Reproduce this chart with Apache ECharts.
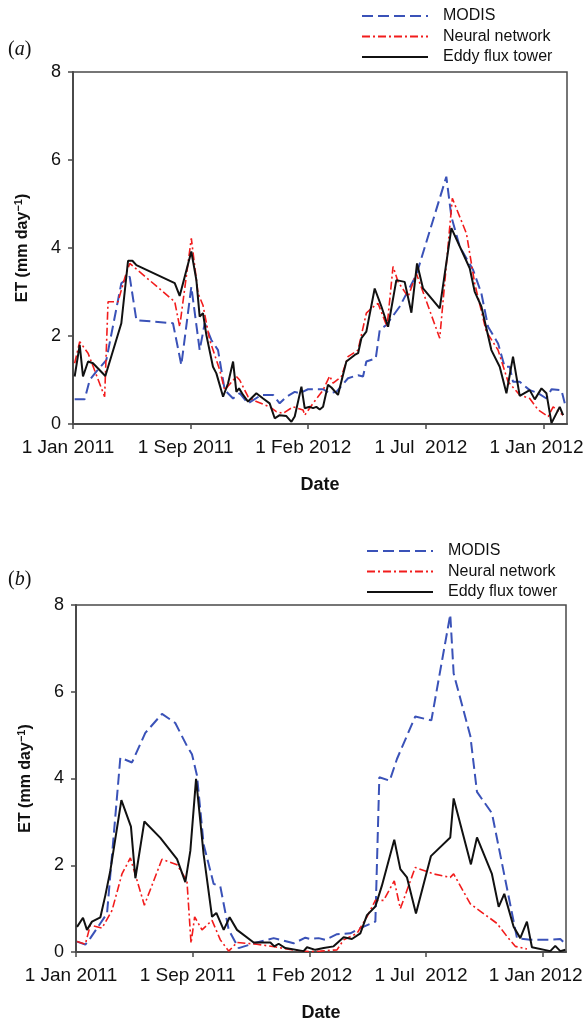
<!DOCTYPE html>
<html>
<head>
<meta charset="utf-8">
<script src="https://cdn.jsdelivr.net/npm/echarts@6/dist/echarts.min.js"></script>
<style>
  html, body { margin: 0; padding: 0; background: #fff; }
  #chart { width: 587px; height: 1023px; }
</style>
</head>
<body>
<div id="chart"></div>
<script>
// x is measured in tick steps (0 = first tick label, 4 = last)
const tickLabels = ['1 Jan 2011', '1 Sep 2011', '1 Feb 2012', '1 Jul  2012', '1 Jan 2012'];
const yTicks = [0, 2, 4, 6, 8];

// panel (a)
const modisA = [[0.014,0.56],[0.099,0.56],[0.142,1.00],[0.198,1.19],[0.283,1.45],[0.411,3.20],[0.482,3.35],[0.539,2.36],[0.850,2.29],[0.921,1.34],[1.006,3.12],[1.077,1.68],[1.120,2.29],[1.176,1.91],[1.233,1.68],[1.290,0.77],[1.361,0.58],[1.417,0.70],[1.488,0.47],[1.601,0.66],[1.701,0.66],[1.757,0.47],[1.814,0.62],[1.885,0.73],[1.927,0.70],[1.998,0.79],[2.126,0.79],[2.182,0.70],[2.239,0.73],[2.338,1.04],[2.423,1.11],[2.466,1.08],[2.494,1.42],[2.574,1.49],[2.608,2.14],[2.664,2.25],[2.778,2.67],[2.919,3.39],[3.174,5.62],[3.217,4.71],[3.288,4.03],[3.402,3.50],[3.472,2.97],[3.529,2.21],[3.614,1.83],[3.670,1.30],[3.713,1.30],[3.741,0.96],[3.798,0.96],[3.883,0.77],[3.954,0.70],[4.025,0.58],[4.068,0.79],[4.153,0.77],[4.181,0.47]];
const neuralA = [[0.014,1.38],[0.057,1.87],[0.128,1.61],[0.269,0.62],[0.298,2.78],[0.383,2.78],[0.439,3.31],[0.482,3.65],[0.865,2.78],[0.907,2.21],[1.006,4.22],[1.063,2.97],[1.105,2.70],[1.162,1.91],[1.247,1.23],[1.290,0.77],[1.389,1.08],[1.417,1.00],[1.488,0.62],[1.559,0.51],[1.672,0.39],[1.729,0.28],[1.786,0.24],[1.871,0.39],[1.956,0.32],[1.970,0.20],[2.041,0.47],[2.126,0.77],[2.182,1.09],[2.211,0.93],[2.282,1.08],[2.338,1.53],[2.423,1.68],[2.494,2.52],[2.537,2.63],[2.594,2.74],[2.670,2.21],[2.721,3.58],[2.764,3.23],[2.849,2.89],[2.919,3.42],[3.118,1.95],[3.225,5.13],[3.345,4.33],[3.415,3.20],[3.514,2.10],[3.614,1.68],[3.699,0.96],[3.798,0.66],[3.883,0.58],[3.955,0.32],[4.040,0.17],[4.082,0.39],[4.167,0.20]];
const towerA = [[0.014,1.08],[0.057,1.80],[0.085,1.08],[0.128,1.42],[0.170,1.38],[0.275,1.09],[0.411,2.29],[0.468,3.71],[0.505,3.71],[0.539,3.61],[0.865,3.20],[0.907,2.91],[1.006,3.92],[1.049,3.27],[1.077,2.44],[1.105,2.52],[1.134,2.02],[1.190,1.30],[1.219,1.15],[1.276,0.62],[1.318,0.92],[1.361,1.42],[1.389,0.73],[1.412,0.81],[1.446,0.66],[1.488,0.51],[1.559,0.70],[1.616,0.58],[1.672,0.47],[1.715,0.13],[1.757,0.20],[1.814,0.18],[1.857,0.05],[1.885,0.17],[1.942,0.85],[1.970,0.36],[2.012,0.39],[2.041,0.36],[2.069,0.39],[2.098,0.33],[2.126,0.39],[2.168,0.89],[2.197,0.83],[2.253,0.66],[2.324,1.42],[2.395,1.57],[2.424,1.61],[2.452,1.95],[2.494,2.10],[2.565,3.08],[2.622,2.67],[2.679,2.21],[2.749,3.27],[2.820,3.23],[2.877,2.53],[2.925,3.65],[2.976,3.08],[3.118,2.63],[3.217,4.45],[3.373,3.54],[3.415,3.01],[3.472,2.67],[3.557,1.68],[3.628,1.30],[3.685,0.70],[3.741,1.53],[3.798,0.64],[3.883,0.77],[3.926,0.56],[3.983,0.81],[4.025,0.70],[4.068,0.02],[4.138,0.39],[4.167,0.20]];

// panel (b)
const modisB = [[0.009,0.24],[0.080,0.17],[0.123,0.32],[0.266,0.89],[0.380,4.48],[0.480,4.37],[0.594,5.05],[0.737,5.49],[0.851,5.28],[0.951,4.75],[0.994,4.56],[1.037,4.07],[1.094,2.48],[1.180,1.57],[1.237,1.51],[1.309,0.51],[1.394,0.09],[1.551,0.22],[1.694,0.32],[1.866,0.20],[1.966,0.33],[2.008,0.30],[2.080,0.32],[2.137,0.28],[2.237,0.41],[2.351,0.43],[2.437,0.55],[2.566,0.70],[2.600,4.03],[2.689,3.95],[2.751,4.45],[2.908,5.43],[3.046,5.34],[3.208,7.78],[3.237,6.42],[3.380,4.98],[3.437,3.69],[3.565,3.20],[3.780,0.32],[3.894,0.28],[4.051,0.28],[4.151,0.30],[4.200,0.17]];
const neuralB = [[0.009,0.24],[0.080,0.18],[0.123,0.62],[0.223,0.55],[0.309,0.96],[0.394,1.80],[0.466,2.17],[0.586,1.08],[0.737,2.14],[0.866,2.01],[0.951,1.64],[0.986,0.20],[1.017,0.81],[1.080,0.51],[1.166,0.73],[1.237,0.28],[1.309,0.02],[1.380,0.22],[1.550,0.18],[1.700,0.12],[1.850,0.05],[2.000,0.01],[2.094,0.02],[2.237,0.05],[2.294,0.28],[2.409,0.43],[2.494,0.81],[2.566,1.19],[2.637,1.19],[2.728,1.64],[2.780,1.00],[2.908,1.95],[3.065,1.80],[3.208,1.72],[3.237,1.80],[3.380,1.11],[3.608,0.66],[3.694,0.36],[3.765,0.13],[3.865,0.07]];
const towerB = [[0.009,0.58],[0.060,0.79],[0.094,0.51],[0.137,0.70],[0.209,0.80],[0.251,1.30],[0.294,1.87],[0.389,3.50],[0.471,2.89],[0.509,1.70],[0.586,3.01],[0.723,2.63],[0.866,2.14],[0.937,1.61],[0.980,2.33],[1.029,3.99],[1.094,2.25],[1.166,0.81],[1.203,0.90],[1.266,0.51],[1.317,0.80],[1.380,0.51],[1.523,0.22],[1.666,0.22],[1.700,0.13],[1.737,0.19],[1.794,0.09],[1.951,0.02],[1.980,0.11],[2.051,0.05],[2.123,0.09],[2.208,0.13],[2.294,0.34],[2.365,0.30],[2.437,0.43],[2.494,0.85],[2.566,1.05],[2.622,1.53],[2.728,2.59],[2.780,1.91],[2.837,1.72],[2.914,0.89],[3.042,2.21],[3.208,2.64],[3.237,3.54],[3.385,2.02],[3.437,2.64],[3.565,1.80],[3.623,1.04],[3.671,1.34],[3.751,0.58],[3.808,0.32],[3.865,0.70],[3.908,0.11],[4.065,0.02],[4.108,0.14],[4.151,0.02],[4.194,0.05]];

const FONT = '"Liberation Sans", Arial, sans-serif';
const AXIS_COLOR = '#4a4a4a';
const BLUE = '#3a52b8';
const RED = '#f21c1c';

const chart = echarts.init(document.getElementById('chart'), null, { renderer: 'canvas' });

function xAxisFor(grid) {
  return {
    type: 'value', gridIndex: grid, min: 0, max: 4.2,
    name: 'Date', nameLocation: 'middle', nameGap: 52,
    nameTextStyle: { fontFamily: FONT, fontSize: 18, fontWeight: 'bold', color: '#111' },
    axisLine: { show: true, lineStyle: { color: AXIS_COLOR, width: 2 } },
    axisTick: { show: true, length: 5, customValues: [0, 1, 2, 3, 4], lineStyle: { color: AXIS_COLOR, width: 1.5 } },
    axisLabel: {
      customValues: [0, 1, 2, 3, 4],
      margin: 14, fontFamily: FONT, fontSize: 19, color: '#111',
      formatter: function (v) {
        const i = Math.round(v);
        return i === tickLabels.length - 1 ? '{last|' + tickLabels[i] + '}' : '{n|' + tickLabels[i] + '}';
      },
      rich: {
        n: { fontFamily: FONT, fontSize: 19, color: '#111', padding: [0, 10, 0, 0] },
        last: { fontFamily: FONT, fontSize: 19, color: '#111', padding: [0, 14, 0, 0] }
      }
    },
    splitLine: { show: false }
  };
}

function yAxisFor(grid) {
  return {
    type: 'value', gridIndex: grid, min: 0, max: 8, interval: 2,
    name: 'ET (mm day{sup|\u22121})', nameLocation: 'middle', nameGap: 40,
    nameTextStyle: {
      fontFamily: FONT, fontSize: 16, fontWeight: 'bold', color: '#111',
      rich: { sup: { fontFamily: FONT, fontSize: 11, fontWeight: 'bold', color: '#111', padding: [0, 0, 9, 0] } }
    },
    axisLine: { show: true, lineStyle: { color: AXIS_COLOR, width: 2 } },
    axisTick: { show: true, length: 5, lineStyle: { color: AXIS_COLOR, width: 1.5 } },
    axisLabel: { margin: 12, fontFamily: FONT, fontSize: 18, color: '#111' },
    splitLine: { show: false }
  };
}

function legendFor(left, top) {
  return {
    orient: 'vertical', left: left, top: top, padding: 0,
    itemWidth: 66, itemHeight: 14, itemGap: 4.5,
    itemStyle: { opacity: 0 },
    textStyle: { fontFamily: FONT, fontSize: 16, color: '#111', padding: [0, 0, 0, 10] },
    data: ['MODIS', 'Neural network', 'Eddy flux tower']
  };
}

function lines(grid, modis, neural, tower) {
  return [
    { name: 'MODIS', type: 'line', xAxisIndex: grid, yAxisIndex: grid, data: modis, symbol: 'none',
      lineStyle: { color: BLUE, width: 2, type: [11, 5] }, itemStyle: { color: BLUE }, z: 2 },
    { name: 'Neural network', type: 'line', xAxisIndex: grid, yAxisIndex: grid, data: neural, symbol: 'none',
      lineStyle: { color: RED, width: 1.6, type: [8, 3, 2, 3] }, itemStyle: { color: RED }, z: 3 },
    { name: 'Eddy flux tower', type: 'line', xAxisIndex: grid, yAxisIndex: grid, data: tower, symbol: 'none',
      lineStyle: { color: '#111', width: 2 }, itemStyle: { color: '#111' }, z: 4 }
  ];
}

const panelTitle = function (letter, top) {
  return {
    text: '({i|' + letter + '})', left: 8, top: top, padding: 0,
    textStyle: {
      fontFamily: '"Liberation Serif", "Times New Roman", serif', fontSize: 20, fontWeight: 'normal', color: '#111',
      rich: { i: { fontFamily: '"Liberation Serif", "Times New Roman", serif', fontSize: 20, fontStyle: 'italic', color: '#111' } }
    }
  };
};

chart.setOption({
  animation: false,
  backgroundColor: '#fff',
  title: [panelTitle('a', 40), panelTitle('b', 570)],
  legend: [legendFor(361, 8), legendFor(366, 543)],
  grid: [
    { left: 73, top: 72, width: 494, height: 352, show: true, borderColor: AXIS_COLOR, borderWidth: 1.5, backgroundColor: 'transparent' },
    { left: 76, top: 605, width: 490, height: 351, show: true, borderColor: AXIS_COLOR, borderWidth: 1.5, backgroundColor: 'transparent' }
  ],
  xAxis: [xAxisFor(0), xAxisFor(1)],
  yAxis: [yAxisFor(0), yAxisFor(1)],
  series: lines(0, modisA, neuralA, towerA).concat(lines(1, modisB, neuralB, towerB))
});
</script>
</body>
</html>
